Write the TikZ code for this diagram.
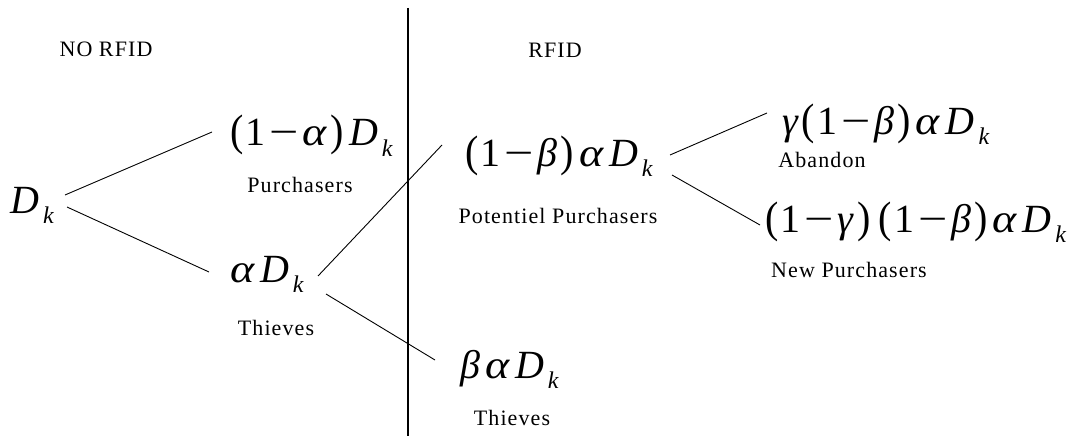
\documentclass[tikz,border=0pt]{standalone}
\usepackage{fontspec}
\usepackage{graphicx}
\setmainfont{Liberation Serif}
\usetikzlibrary{calc}
\newcommand{\I}[1]{\textit{#1}}
\newcommand{\Sp}{\kern5pt}
\newcommand{\Mi}{\kern4pt\scalebox{1.3}[1]{−}\kern4pt}
\newcommand{\Pn}[1]{\scalebox{1}[1.1]{(}\kern2pt1\Mi#1\kern3pt\scalebox{1}[1.1]{)}}
\newcommand{\Dk}{\I{D}\kern4pt\raisebox{-10pt}{\fontsize{24}{24}\selectfont\I{k}}}
\newcommand{\Al}{\scalebox{1.15}[1]{\I{α}}}
\newcommand{\Be}{\I{β}}
\newcommand{\Ga}{\I{γ}}
\tikzset{
  mathnode/.style={inner sep=0pt, anchor=base west, font=\fontsize{40}{44}\selectfont},
  lab/.style={inner sep=0pt, anchor=base, font=\fontsize{22}{26}\selectfont\addfontfeature{LetterSpace=5}},
  branch/.style={line width=0.9pt},
  divider/.style={line width=1.4pt}
}
\begin{document}
\begin{tikzpicture}[x=1pt,y=-1pt]
\useasboundingbox (0,0) rectangle (1072,436);
% divider
\coordinate (top) at (408,8);
\coordinate (bot) at (408,436);
\draw[divider] (top) -- (bot);
% headings
\node[lab] (norfid) at (106,57) {NO RFID};
\node[lab] (rfid) at (555,58) {RFID};
% math nodes
\node[mathnode] (dk)  at (10,213)  {\Dk};
\node[mathnode] (pa)  at (230,146) {\Pn{\Al}\Sp\Dk};
\node[mathnode] (adk) at (230,282) {\Al\Sp\Dk};
\node[mathnode] (pb)  at (465,166) {\Pn{\Be}\Sp\Al\Sp\Dk};
\node[mathnode] (bad) at (460,378) {\Be\Sp\Al\Sp\Dk};
\node[mathnode] (gab) at (782,134) {\Ga\kern3pt\Pn{\Be}\Sp\Al\Sp\Dk};
\node[mathnode] (ngb) at (765,232) {\Pn{\Ga}\kern8pt\Pn{\Be}\Sp\Al\Sp\Dk};
% labels
\node[lab] (purch) at (300,192) {Purchasers};
\node[lab] (thv1)  at (276,335) {Thieves};
\node[lab] (pot)   at (558,223) {Potentiel Purchasers};
\node[lab] (thv2)  at (512,425) {Thieves};
\node[lab] (aban)  at (822,167) {Abandon};
\node[lab] (newp)  at (849,277) {New Purchasers};
% branches
\draw[branch] ($(dk.base west)+(55,-18)$) -- ($(pa.base west)+(-18,-14)$);
\draw[branch] ($(dk.base west)+(57,-6)$) -- ($(adk.base west)+(-21,-10)$);
\draw[branch] ($(adk.base west)+(88,-6)$) -- ($(pb.base west)+(-23,-21)$);
\draw[branch] ($(adk.base west)+(96,12)$) -- ($(bad.base west)+(-25,-18)$);
\draw[branch] ($(pb.base west)+(205,-11)$) -- ($(gab.base west)+(-15,-21)$);
\draw[branch] ($(pb.base west)+(207,9)$) -- ($(ngb.base west)+(-5,-7)$);
\end{tikzpicture}
\end{document}
